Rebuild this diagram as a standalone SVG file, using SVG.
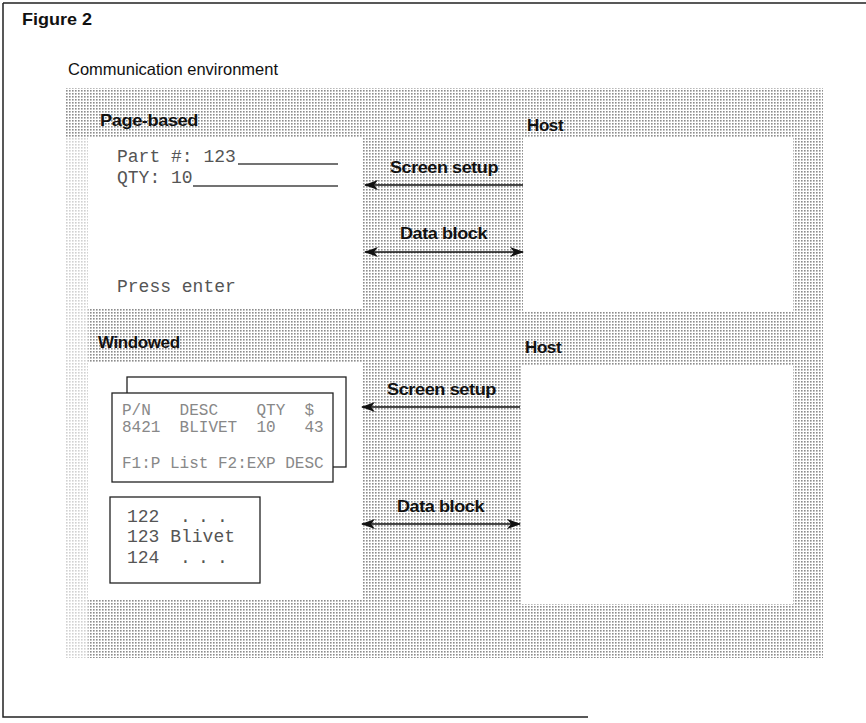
<svg xmlns="http://www.w3.org/2000/svg" width="866" height="723" viewBox="0 0 866 723">
<style>
.frame{stroke:#222;stroke-width:1.5;fill:none}
.title{font-family:"Liberation Sans",Arial,sans-serif;font-weight:bold;fill:#111}
.sub{font-family:"Liberation Sans",Arial,sans-serif;fill:#111}
.lbl{font-family:"Liberation Sans",Arial,sans-serif;font-weight:bold;font-size:17px;fill:#111;letter-spacing:-0.4px}
.mono{font-family:"Liberation Mono","Courier New",monospace;font-size:18px;fill:#555}
.mono2{font-family:"Liberation Mono","Courier New",monospace;font-size:16px;fill:#888}
.white{fill:#fff}
.box{fill:#fff;stroke:#222;stroke-width:1.3}
.ul{stroke:#444;stroke-width:1.3}
.arrow{stroke:#111;stroke-width:1.6;fill:none}
</style>
<defs>
<pattern id="stip" width="3" height="3" patternUnits="userSpaceOnUse">
<rect x="0" y="0" width="3" height="3" fill="#fff"/>
<rect x="0" y="0" width="1.6" height="1.6" fill="#8c8c8c"/>
</pattern>
<marker id="ah" markerWidth="14" markerHeight="10" refX="13" refY="5" orient="auto-start-reverse" markerUnits="userSpaceOnUse">
<path d="M0,0 L14,5 L0,10 L4,5 Z" fill="#111"/>
</marker>
</defs>
<rect width="866" height="723" fill="#fff"/>
<!-- frame -->
<path class="frame" d="M3,3 H866 M3,3 V717 H588"/>
<text class="title" x="22" y="25" font-size="17" textLength="70" lengthAdjust="spacingAndGlyphs">Figure 2</text>
<text class="sub" x="68" y="75" font-size="16.5" textLength="210" lengthAdjust="spacingAndGlyphs">Communication environment</text>
<!-- stippled environment -->
<g id="environment">
<rect x="65" y="88" width="758" height="570" fill="url(#stip)"/>
<rect x="65" y="137" width="23" height="521" fill="#fff" opacity="0.6"/>
</g>
<g id="page-client">
<rect class="white" x="88" y="137" width="274" height="171"/>
<text class="lbl" x="100" y="126" textLength="98" lengthAdjust="spacingAndGlyphs">Page-based</text>
<text class="mono" x="117" y="162">Part #: 123</text>
<line class="ul" x1="238" y1="164" x2="338" y2="164"/>
<text class="mono" x="117" y="183">QTY: 10</text>
<line class="ul" x1="193" y1="186" x2="338" y2="186"/>
<text class="mono" x="117" y="292">Press enter</text>
</g>
<g id="page-host">
<rect class="white" x="523" y="137" width="270" height="175"/>
<text class="lbl" x="527" y="131">Host</text>
</g>
<g id="windowed-client">
<rect class="white" x="88" y="362" width="274" height="238"/>
<text class="lbl" x="98" y="348">Windowed</text>
<rect class="box" x="127" y="377" width="219" height="90"/>
<rect class="box" x="112" y="393" width="221" height="89"/>
<text class="mono2" x="122" y="415" xml:space="preserve">P/N   DESC    QTY  $</text>
<text class="mono2" x="122" y="432" xml:space="preserve">8421  BLIVET  10   43</text>
<text class="mono2" x="122" y="468">F1:P List F2:EXP DESC</text>
<rect class="box" x="110" y="497" width="150" height="86"/>
<text class="mono" y="522" x="127 137.8 148.6 159.4 180 189 198 207.5 217" xml:space="preserve">122 . . .</text>
<text class="mono" x="127" y="542">123 Blivet</text>
<text class="mono" y="563" x="127 137.8 148.6 159.4 180 189 198 207.5 217" xml:space="preserve">124 . . .</text>
</g>
<g id="windowed-host">
<rect class="white" x="521" y="365" width="272" height="239"/>
<text class="lbl" x="525" y="353">Host</text>
</g>
<g id="connectors">
<line class="arrow" x1="523" y1="185" x2="365" y2="185" marker-end="url(#ah)"/>
<text class="lbl" x="390" y="173" textLength="108" lengthAdjust="spacingAndGlyphs">Screen setup</text>
<line class="arrow" x1="365" y1="252" x2="523" y2="252" marker-start="url(#ah)" marker-end="url(#ah)"/>
<text class="lbl" x="400" y="239" textLength="87" lengthAdjust="spacingAndGlyphs">Data block</text>
<line class="arrow" x1="520" y1="407" x2="362" y2="407" marker-end="url(#ah)"/>
<text class="lbl" x="387" y="395" textLength="109" lengthAdjust="spacingAndGlyphs">Screen setup</text>
<line class="arrow" x1="362" y1="524" x2="520" y2="524" marker-start="url(#ah)" marker-end="url(#ah)"/>
<text class="lbl" x="397" y="512" textLength="87" lengthAdjust="spacingAndGlyphs">Data block</text>
</g>
</svg>
